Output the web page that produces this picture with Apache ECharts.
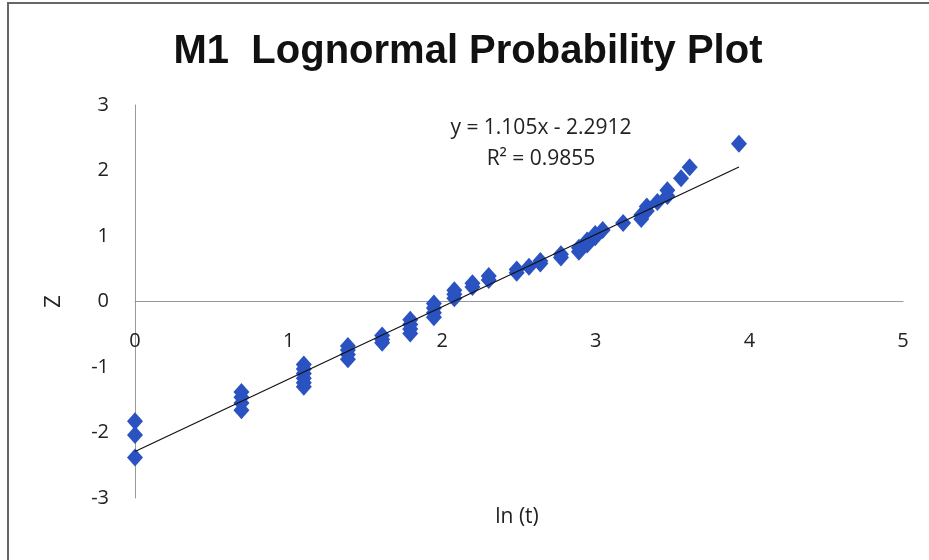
<!DOCTYPE html>
<html>
<head>
    <meta charset="utf-8">
    <title>M1 Lognormal Probability Plot</title>
    <style>
        html, body { margin: 0; padding: 0; background: #fff; }
        #chart { width: 929px; height: 560px; }
    </style>
</head>
<body>
    <div id="chart"></div>
    <script src="https://cdn.jsdelivr.net/npm/echarts@6/dist/echarts.min.js"></script>
    <script>
        // ln(t) values and matching Z scores
        var lnT = [
            0, 0, 0,
            0.693, 0.693, 0.693, 0.693,
            1.099, 1.099, 1.099, 1.099, 1.099, 1.099,
            1.386, 1.386, 1.386, 1.386,
            1.609, 1.609, 1.609,
            1.792, 1.792, 1.792, 1.792,
            1.946, 1.946, 1.946, 1.946,
            2.079, 2.079, 2.079,
            2.197, 2.197,
            2.303, 2.303,
            2.485, 2.485,
            2.565,
            2.639, 2.639,
            2.773, 2.773,
            2.890, 2.890,
            2.944, 2.944,
            2.996, 2.996,
            3.045,
            3.178,
            3.296, 3.296,
            3.332, 3.332,
            3.401,
            3.466, 3.466,
            3.555,
            3.611,
            3.932
        ];
        var zVals = [
            -1.83, -2.04, -2.38,
            -1.38, -1.46, -1.55, -1.66,
            -0.96, -1.03, -1.10, -1.17, -1.24, -1.30,
            -0.68, -0.74, -0.81, -0.88,
            -0.52, -0.58, -0.63,
            -0.28, -0.35, -0.42, -0.49,
            -0.03, -0.10, -0.17, -0.24,
            0.05, 0.11, 0.17,
            0.22, 0.28,
            0.33, 0.39,
            0.44, 0.49,
            0.53,
            0.58, 0.62,
            0.67, 0.72,
            0.76, 0.82,
            0.87, 0.93,
            0.98, 1.03,
            1.09,
            1.20,
            1.26, 1.32,
            1.38, 1.45,
            1.52,
            1.61, 1.70,
            1.88,
            2.05,
            2.41
        ];
        var xTicks = [0, 1, 2, 3, 4, 5];
        var yTicks = [-3, -2, -1, 0, 1, 2, 3];
        var slope = 1.105;
        var intercept = -2.2912;
        var rSquared = 0.9855;

        var points = lnT.map(function (x, i) { return [x, zVals[i]]; });
        var xEnd = Math.max.apply(null, lnT);
        var trend = [[0, intercept], [xEnd, slope * xEnd + intercept]];

        var labelFont = '"Open Sans", sans-serif';

        var myChart = echarts.init(document.getElementById('chart'));
        var option = {
            backgroundColor: '#fff',
            animation: false,
            title: {
                text: 'M1  Lognormal Probability Plot',
                left: 463,
                top: 27,
                textAlign: 'center',
                textStyle: {
                    fontFamily: '"Liberation Sans", Arial, sans-serif',
                    fontWeight: 'bold',
                    fontSize: 40,
                    color: '#111'
                }
            },
            grid: {
                left: 135,
                right: 26,
                top: 105,
                bottom: 62,
                containLabel: false,
                outerBoundsMode: 'none'
            },
            xAxis: {
                type: 'value',
                min: xTicks[0],
                max: xTicks[xTicks.length - 1],
                interval: 1,
                axisLine: { onZero: true, lineStyle: { color: '#999', width: 1 } },
                axisTick: { show: false },
                splitLine: { show: false },
                axisLabel: {
                    // Excel keeps these labels just under the Z = 0 line
                    margin: -167,
                    fontFamily: labelFont,
                    fontSize: 20,
                    color: '#222'
                }
            },
            yAxis: {
                type: 'value',
                min: yTicks[0],
                max: yTicks[yTicks.length - 1],
                interval: 1,
                name: 'Z',
                nameLocation: 'middle',
                nameGap: 70,
                nameRotate: 90,
                nameTextStyle: {
                    fontFamily: labelFont,
                    fontSize: 22,
                    color: '#222'
                },
                axisLine: { show: true, onZero: false, lineStyle: { color: '#999', width: 1 } },
                axisTick: { show: false },
                splitLine: { show: false },
                axisLabel: {
                    margin: 26,
                    fontFamily: labelFont,
                    fontSize: 20,
                    color: '#222'
                }
            },
            graphic: [
                {
                    type: 'rect',
                    shape: { x: 8, y: 3, width: 960, height: 600 },
                    style: { fill: 'none', stroke: '#666', lineWidth: 2 },
                    silent: true
                },
                {
                    type: 'text',
                    x: 517,
                    y: 517,
                    style: {
                        text: 'ln (t)',
                        font: '21px ' + labelFont,
                        fill: '#222',
                        align: 'center',
                        verticalAlign: 'middle'
                    }
                },
                {
                    type: 'text',
                    x: 541,
                    y: 128,
                    style: {
                        text: 'y = ' + slope + 'x - ' + Math.abs(intercept),
                        font: '21px ' + labelFont,
                        fill: '#222',
                        align: 'center',
                        verticalAlign: 'middle'
                    }
                },
                {
                    type: 'text',
                    x: 541,
                    y: 159,
                    style: {
                        text: 'R² = ' + rSquared,
                        font: '21px ' + labelFont,
                        fill: '#222',
                        align: 'center',
                        verticalAlign: 'middle'
                    }
                }
            ],
            series: [
                {
                    name: 'Z',
                    type: 'scatter',
                    symbol: 'diamond',
                    symbolSize: [16, 18],
                    itemStyle: { color: '#2A52C0', opacity: 1 },
                    data: points,
                    z: 2
                },
                {
                    name: 'Linear',
                    type: 'line',
                    showSymbol: false,
                    lineStyle: { color: '#111', width: 1.2 },
                    data: trend,
                    z: 3
                }
            ]
        };
        myChart.setOption(option);
    </script>
</body>
</html>
